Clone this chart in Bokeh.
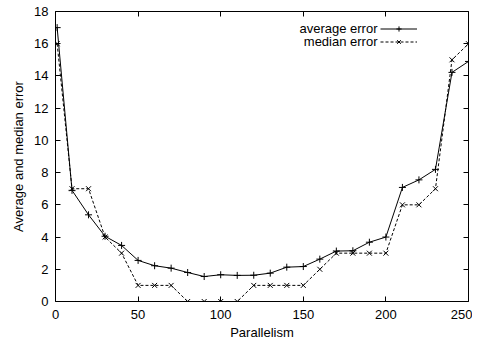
from bokeh.plotting import figure
from bokeh.models import (LinearAxis, SingleIntervalTicker, Range1d, Legend,
                          LegendItem, Label)
from bokeh.embed import file_html
from bokeh.resources import INLINE

parallelism = [1, 10, 20, 30, 40, 50, 60, 70, 80, 90, 100, 110, 120, 130,
               140, 150, 160, 170, 180, 190, 200, 210, 220, 230, 240, 250]
average_error = [17.0, 6.9, 5.38, 4.05, 3.48, 2.55, 2.22, 2.07, 1.8, 1.55,
                 1.66, 1.62, 1.63, 1.76, 2.13, 2.17, 2.63, 3.13, 3.15, 3.68,
                 4.0, 7.08, 7.55, 8.2, 14.22, 14.9]
median_error = [16, 7, 7, 4, 3, 1, 1, 1, 0, 0, 0, 0, 1, 1, 1, 1, 2, 3, 3, 3,
                3, 6, 6, 7, 15, 16]
x_ticks = [0, 50, 100, 150, 200, 250]
y_ticks = [0, 2, 4, 6, 8, 10, 12, 14, 16, 18]

FONT = "Liberation Sans"
FS = "13px"

p = figure(width=472, height=342, output_backend="svg", toolbar_location=None,
           x_range=Range1d(0, 250), y_range=Range1d(0, 18),
           min_border_left=55, min_border_right=4, min_border_top=11,
           min_border_bottom=41)
p.xgrid.visible = False
p.ygrid.visible = False
p.outline_line_color = "black"
p.outline_line_width = 1
p.background_fill_color = "white"
p.border_fill_color = "white"

def style(ax):
    ax.major_tick_in = 5
    ax.major_tick_out = 0
    ax.minor_tick_in = 0
    ax.minor_tick_out = 0
    ax.axis_line_color = None
    ax.major_tick_line_color = "black"
    ax.major_label_text_font = FONT
    ax.major_label_text_font_size = FS
    ax.major_label_text_color = "black"
    ax.axis_label_text_font = FONT
    ax.axis_label_text_font_size = FS
    ax.axis_label_text_font_style = "normal"
    ax.axis_label_text_color = "black"

for ax in p.xaxis:
    ax.ticker = SingleIntervalTicker(interval=50, num_minor_ticks=0)
    ax.axis_label = "Parallelism"
    style(ax)
    ax.major_label_standoff = 8
    ax.axis_label_standoff = 3
for ax in p.yaxis:
    ax.ticker = SingleIntervalTicker(interval=2, num_minor_ticks=0)
    ax.axis_label = "Average and median error"
    style(ax)
    ax.major_label_standoff = 7
    ax.axis_label_standoff = 5

top = LinearAxis(ticker=SingleIntervalTicker(interval=50, num_minor_ticks=0))
style(top)
top.major_label_overrides = {t: "" for t in x_ticks}
top.major_label_standoff = 0
right = LinearAxis(ticker=SingleIntervalTicker(interval=2, num_minor_ticks=0))
style(right)
right.major_label_overrides = {t: "" for t in y_ticks}
right.major_label_standoff = 0
p.add_layout(top, "above")
p.add_layout(right, "right")

avg_line = p.line(parallelism, average_error, line_color="black", line_width=1)
avg_pts = p.scatter(parallelism, average_error, marker="cross", size=7,
                    line_color="black", line_width=1)
med_line = p.line(parallelism, median_error, line_color="black", line_width=1,
                  line_dash="3 2")
med_pts = p.scatter(parallelism, median_error, marker="x", size=7,
                    line_color="black", line_width=1)

legend = Legend(items=[LegendItem(label=" ", renderers=[avg_line, avg_pts]),
                       LegendItem(label=" ", renderers=[med_line, med_pts])],
                location=(325, 253), orientation="vertical",
                glyph_width=37, glyph_height=13, label_height=13,
                label_width=0, label_standoff=0, spacing=0, padding=0,
                margin=0, background_fill_alpha=0, border_line_alpha=0,
                label_text_font_size="1px")
p.add_layout(legend, "center")

for txt, yy in [("average error", 273), ("median error", 260)]:
    p.add_layout(Label(x=322, y=yy, x_units="screen", y_units="screen",
                       text=txt, text_align="right", text_baseline="middle",
                       text_font=FONT, text_font_size=FS,
                       text_color="black"))

open("out.html", "w").write(file_html(p, INLINE))
